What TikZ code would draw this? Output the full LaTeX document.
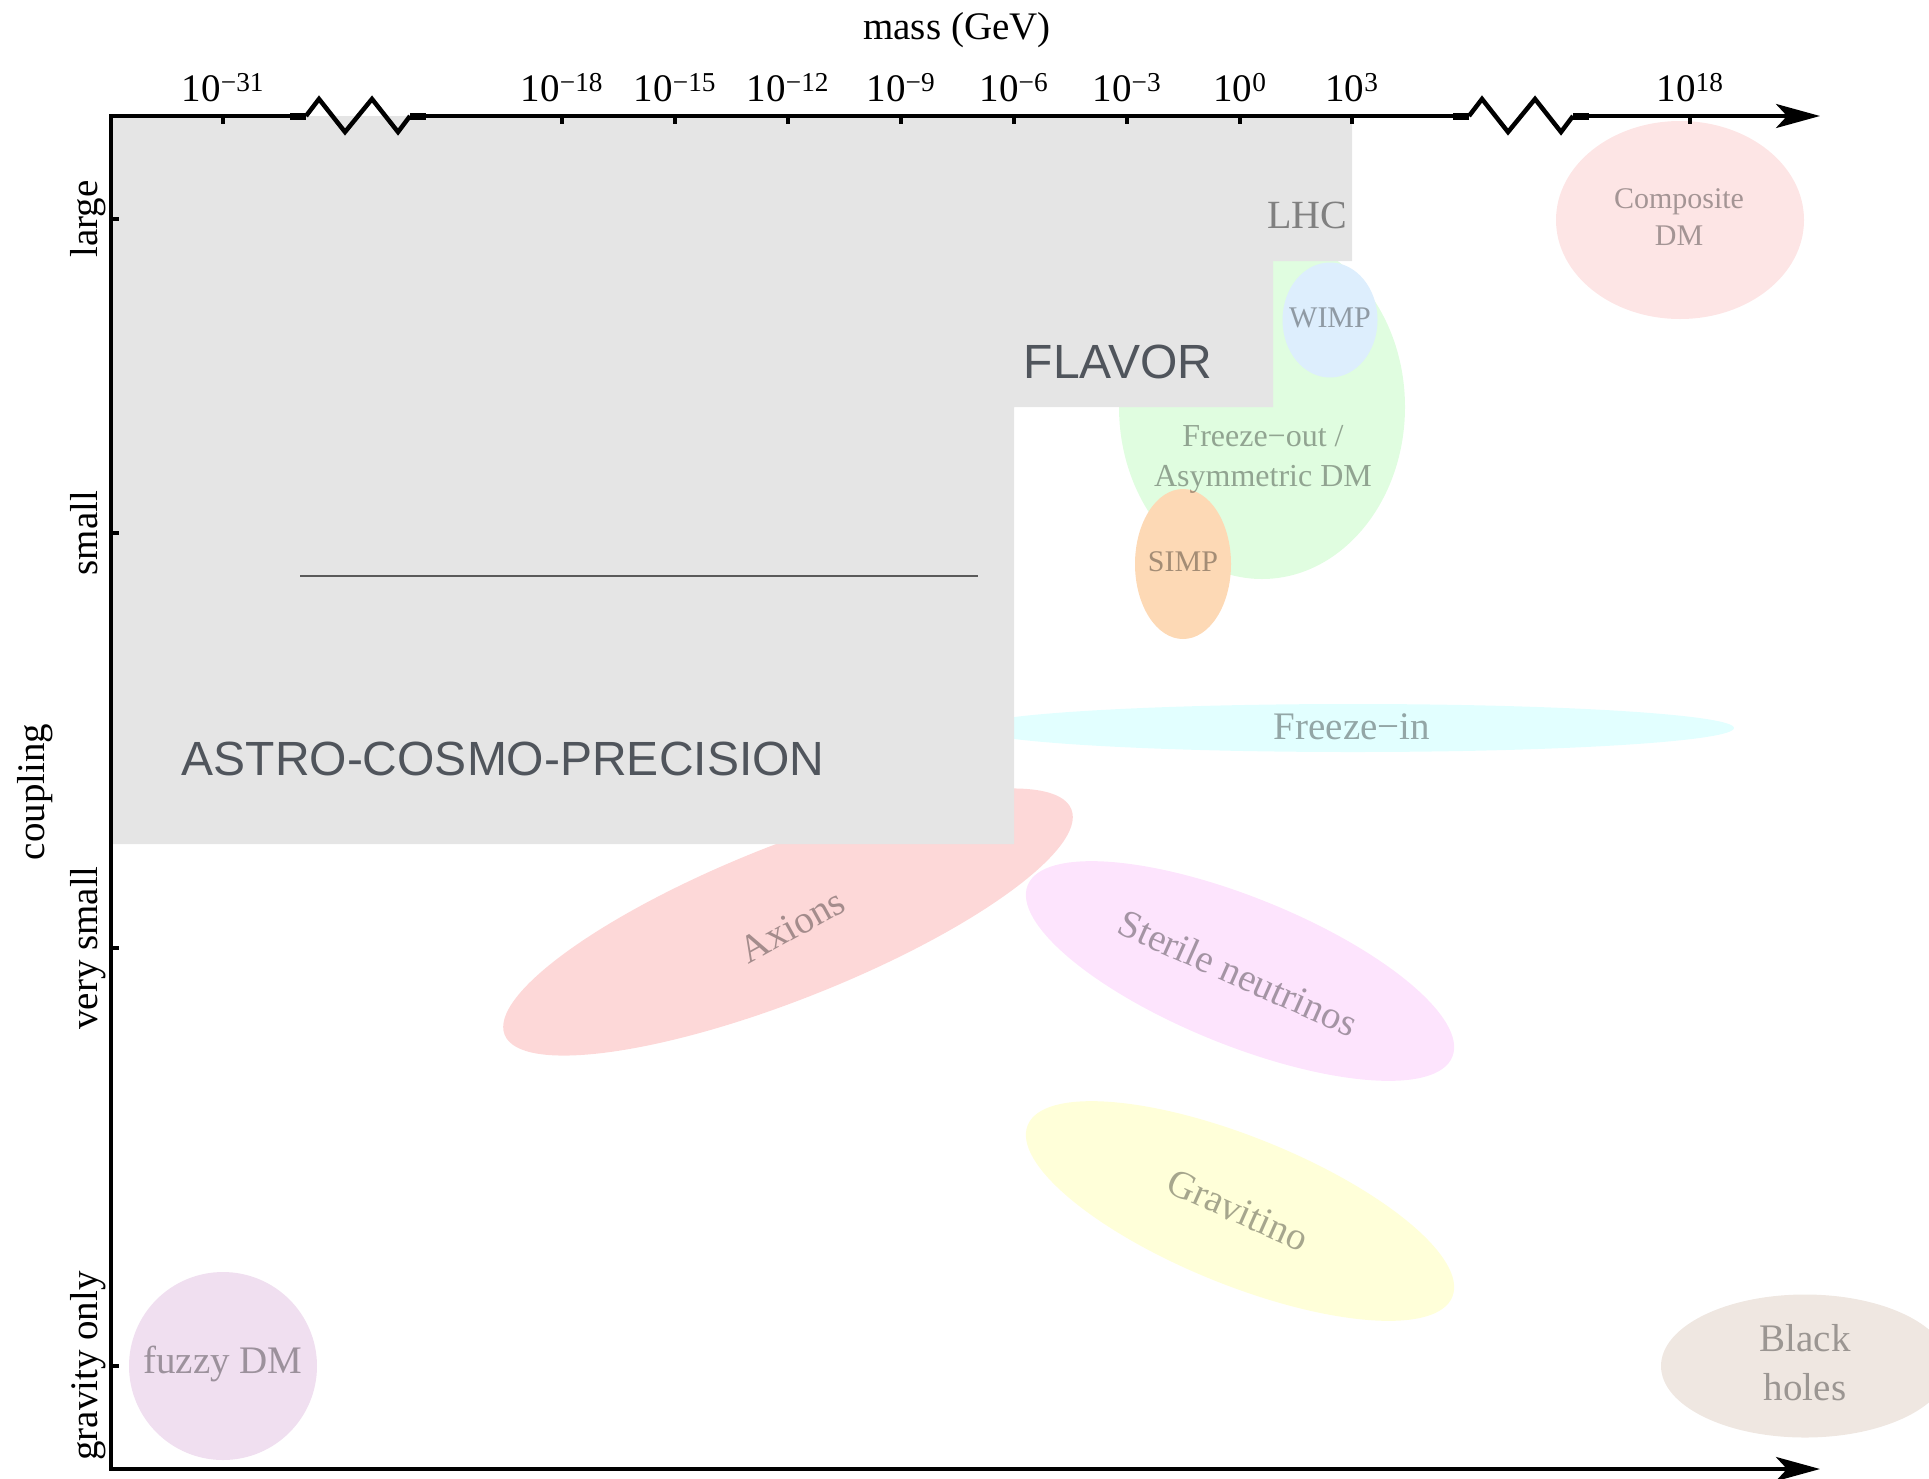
\documentclass[tikz,border=0pt]{standalone}
\usepackage{fontspec}
\setmainfont{Liberation Serif}
\newfontfamily\regionfont{Liberation Sans}
\usetikzlibrary{shapes.geometric,arrows.meta}

\definecolor{regiongray}{RGB}{229,229,229}
\definecolor{regiontext}{RGB}{80,85,92}
\definecolor{lhcgray}{RGB}{128,128,128}
\definecolor{rulegray}{RGB}{90,90,90}
\definecolor{freezeoutgreen}{RGB}{224,253,224}
\definecolor{wimpblue}{RGB}{221,238,253}
\definecolor{simporange}{RGB}{253,217,181}
\definecolor{freezeincyan}{RGB}{226,255,255}
\definecolor{axionred}{RGB}{253,216,216}
\definecolor{sterilepink}{RGB}{253,228,253}
\definecolor{gravitinoyellow}{RGB}{255,255,217}
\definecolor{compositepink}{RGB}{253,229,229}
\definecolor{fuzzypurple}{RGB}{240,223,240}
\definecolor{bhbeige}{RGB}{239,231,225}

\begin{document}
\begin{tikzpicture}[x=1pt,y=-1pt,
    blob/.style={ellipse,inner sep=0pt,draw=none},
    lbl/.style={text=black,text opacity=0.35,align=center,font=\fontsize{39}{49}\selectfont},
    small lbl/.style={lbl,font=\fontsize{30}{37}\selectfont},
    region lbl/.style={text=regiontext,font=\regionfont\fontsize{48}{58}\selectfont},
    axis lbl/.style={font=\fontsize{39}{47}\selectfont},
    axisline/.style={line width=4pt},
    arrowhead/.style={-{Stealth[length=44pt,width=24pt,inset=11pt]}},
  ]
  \useasboundingbox (0,0) rectangle (1929,1478);
  \clip (0,0) rectangle (1929,1478);

  % dark matter candidates
  \node[blob,fill=freezeoutgreen,minimum width=286,minimum height=344] (freezeout) at (1262,407) {};
  \node[blob,fill=wimpblue,minimum width=95,minimum height=115] (wimp) at (1330,320) {};
  \node[blob,fill=simporange,minimum width=96,minimum height=150] (simp) at (1183,564) {};
  \node[blob,fill=freezeincyan,minimum width=762,minimum height=48] (freezein) at (1353,728) {};
  \node[blob,fill=axionred,minimum width=610,minimum height=154,rotate=21.7] (axions) at (788,922) {};
  \node[blob,fill=sterilepink,minimum width=458,minimum height=148,rotate=-22] (sterile) at (1240,971) {};
  \node[blob,fill=gravitinoyellow,minimum width=458,minimum height=148,rotate=-22] (gravitino) at (1240,1211) {};
  \node[blob,fill=compositepink,minimum width=248,minimum height=198] (composite) at (1680,220) {};
  \node[blob,fill=fuzzypurple,minimum width=188,minimum height=188] (fuzzy) at (223,1366) {};
  \node[blob,fill=bhbeige,minimum width=288,minimum height=143] (bh) at (1805,1366) {};

  % excluded regions
  \fill[regiongray] (111,116) -| (1352,261) -| (1273,407) -| (1014,844) -- (111,844) -- cycle;
  \draw[rulegray,line width=1.5pt] (300,576) -- (978,576);
  \node[font=\fontsize{40}{48}\selectfont,text=lhcgray] (lhc) at (1307,215) {LHC};
  \node[region lbl] (flavor) at (1118,362) {FLAVOR};
  \node[region lbl] (astro) at (503,759) {ASTRO-COSMO-PRECISION};

  % labels
  \node[small lbl] (composite-lbl) at (1679,217) {Composite\\DM};
  \node[small lbl] (wimp-lbl) at (1330,318) {WIMP};
  \node[small lbl,font=\fontsize{32}{40}\selectfont] (freezeout-lbl) at (1263,459) {Freeze−out /\\Asymmetric DM};
  \node[small lbl] (simp-lbl) at (1183,562) {SIMP};
  \node[lbl] (freezein-lbl) at (1352,727) {Freeze−in};
  \node[lbl,rotate=29] (axions-lbl) at (792,926) {Axions};
  \node[lbl,rotate=-24] (sterile-lbl) at (1238,973) {Sterile neutrinos};
  \node[lbl,rotate=-24] (gravitino-lbl) at (1238,1210) {Gravitino};
  \node[lbl] (fuzzy-lbl) at (223,1364) {fuzzy DM};
  \node[lbl] (bh-lbl) at (1805,1363) {Black\\holes};

  % axes
  \draw[axisline,arrowhead] (290,116) -- (111,116) -- (111,1469) -- (1820,1469);
  \draw[axisline] (426,116) -- (1453,116);
  \draw[axisline,arrowhead] (1589,116) -- (1820,116);
  \foreach \zx in {290,1453} {
    \draw[line width=7pt] (\zx,116) -- ++(16,0) ++(104,0) -- ++(16,0);
    \draw[line width=4.5pt,line join=miter] (\zx+16,116) -- ++(13,-17) -- ++(26,33)
      -- ++(27,-33) -- ++(26,33) -- ++(12,-16);
  }
  \foreach \tx/\te [count=\i] in {223/−31,562/−18,675/−15,788/−12,901/−9,
      1014/−6,1127/−3,1240/0,1352/3,1690/18} {
    \draw[axisline] (\tx,116) -- ++(0,8);
    \node[axis lbl,anchor=base] (m\i) at (\tx,101) {10\textsuperscript{\te}};
  }
  \foreach \ty/\tl [count=\i] in {219/large,533/small,948/very small,1366/gravity only} {
    \draw[axisline] (111,\ty) -- ++(8,0);
    \node[axis lbl,rotate=90,anchor=base] (c\i) at (97,\ty) {\tl};
  }
  \node[axis lbl,anchor=base] (mass) at (957,39) {mass (GeV)};
  \node[axis lbl,rotate=90,anchor=base] (coupling) at (44,792) {coupling};
\end{tikzpicture}
\end{document}
